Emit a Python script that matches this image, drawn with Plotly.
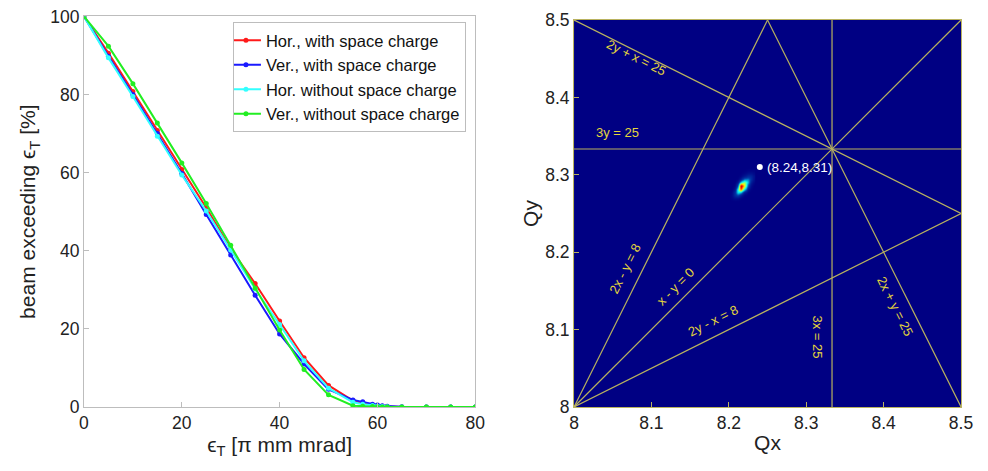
import plotly.graph_objects as go

# ---------------- Left panel data ----------------
eps_T = [0, 5, 10, 15, 20, 25, 30, 35, 40, 45, 50, 55, 57, 59, 60, 61, 62, 65, 70, 75, 80]
hor_sc = [100, 90.6, 80.8, 70.8, 60.8, 51.0, 40.5, 31.6, 22.0, 12.6, 5.5, 1.6, 1.0, 0.5, 0.3, 0.2, 0.1, 0, 0, 0, 0]
ver_sc = [100, 89.8, 80.0, 70.0, 59.8, 49.3, 38.9, 28.6, 18.7, 11.0, 4.5, 1.8, 1.3, 0.7, 0.5, 0.3, 0.2, 0.05, 0, 0, 0]
hor_nosc = [100, 89.4, 79.5, 69.3, 59.4, 50.2, 40.2, 30.2, 21.1, 11.8, 4.8, 1.2, 0.7, 0.4, 0.2, 0.1, 0.05, 0, 0, 0, 0]
ver_nosc = [100, 92.4, 82.8, 72.7, 62.5, 52.1, 41.4, 30.4, 19.7, 9.6, 3.1, 0.3, 0.15, 0.1, 0.05, 0, 0, 0, 0, 0, 0]
series_names = ["Hor., with space charge", "Ver., with space charge",
                "Hor. without space charge", "Ver., without space charge"]
series_colors = ["#ff1a1a", "#1a1aff", "#33ffff", "#22ee22"]

# ---------------- Right panel data ----------------
# resonance lines a*Qx + b*Qy = c
res_a = [1, 0, 3, 2, 2, 1, -1]
res_b = [2, 3, 0, 1, -1, -1, 2]
res_c = [25, 25, 25, 25, 8, 0, 8]
res_labels = ["2y + x = 25", "3y = 25", "3x = 25", "2x + y = 25", "2x - y = 8", "x - y = 0", "2y - x = 8"]
res_label_x = [8.080, 8.056, 8.314, 8.415, 8.066, 8.131, 8.180]
res_label_y = [8.451, 8.354, 8.091, 8.130, 8.179, 8.156, 8.112]
res_label_angle = [26.6, 0, 90, 63.4, -63.4, -45, -26.6]

working_point = (8.24, 8.31)
q_min, q_max = 8.0, 8.5

# tune density, grid origin and step
dens_x0, dens_y0, dens_d = 8.200, 8.266, 0.004
tune_density = [
    [0, 0, 0, 0, 0, 0, 0, 0, 0],
    [0, 0.02, 0.05, 0.04, 0.01, 0, 0, 0, 0],
    [0, 0.03, 0.15, 0.20, 0.09, 0.01, 0, 0, 0],
    [0, 0.02, 0.15, 0.40, 0.34, 0.09, 0.01, 0, 0],
    [0, 0, 0.07, 0.44, 0.78, 0.38, 0.07, 0.01, 0],
    [0, 0, 0.02, 0.22, 0.92, 0.60, 0.20, 0.04, 0],
    [0, 0, 0, 0.07, 0.38, 0.52, 0.34, 0.10, 0.02],
    [0, 0, 0, 0.01, 0.10, 0.26, 0.28, 0.16, 0.05],
    [0, 0, 0, 0, 0.02, 0.08, 0.14, 0.13, 0.06],
    [0, 0, 0, 0, 0, 0.02, 0.05, 0.06, 0.03],
    [0, 0, 0, 0, 0, 0, 0.01, 0.01, 0.01],
]

FONT = "Liberation Sans, Arial, Helvetica, sans-serif"
LINE_COL = "rgb(185,178,95)"
LABEL_COL = "rgb(228,214,60)"
BG_COL = "rgb(0,0,131)"

fig = go.Figure()

for ys, name, col in zip([hor_sc, ver_sc, hor_nosc, ver_nosc], series_names, series_colors):
    fig.add_trace(go.Scatter(x=eps_T, y=ys, name=name, mode="lines+markers",
                             line=dict(color=col, width=2),
                             marker=dict(color=col, size=5),
                             xaxis="x", yaxis="y"))

# density heatmap
fig.add_trace(go.Heatmap(z=tune_density, x0=dens_x0, dx=dens_d, y0=dens_y0, dy=dens_d,
                         colorscale="Jet", zmin=0, zmax=1, zsmooth="best",
                         showscale=False, hoverinfo="skip", xaxis="x2", yaxis="y2",
                         showlegend=False))


def clip_line(a, b, c):
    pts = []
    if b != 0:
        for xv in (q_min, q_max):
            yv = (c - a * xv) / b
            if q_min - 1e-9 <= yv <= q_max + 1e-9:
                pts.append((xv, yv))
    if a != 0:
        for yv in (q_min, q_max):
            xv = (c - b * yv) / a
            if q_min - 1e-9 <= xv <= q_max + 1e-9:
                pts.append((xv, yv))
    uniq = []
    for p in pts:
        if all(abs(p[0] - u[0]) > 1e-9 or abs(p[1] - u[1]) > 1e-9 for u in uniq):
            uniq.append(p)
    return uniq[:2]


for a, b, c in zip(res_a, res_b, res_c):
    seg = clip_line(a, b, c)
    fig.add_trace(go.Scatter(x=[p[0] for p in seg], y=[p[1] for p in seg], mode="lines",
                             line=dict(color=LINE_COL, width=1.2), showlegend=False,
                             hoverinfo="skip", xaxis="x2", yaxis="y2"))

fig.add_trace(go.Scatter(x=[working_point[0]], y=[working_point[1]], mode="markers",
                         marker=dict(color="white", size=6), showlegend=False,
                         xaxis="x2", yaxis="y2"))

annotations = []
for txt, lx, ly, ang in zip(res_labels, res_label_x, res_label_y, res_label_angle):
    annotations.append(dict(x=lx, y=ly, xref="x2", yref="y2", text=txt, showarrow=False,
                            textangle=ang, font=dict(family=FONT, size=13, color=LABEL_COL)))
annotations.append(dict(x=working_point[0] + 0.007, y=working_point[1], xref="x2", yref="y2",
                        text="(%.2f,%.2f)" % working_point, showarrow=False, xanchor="left",
                        font=dict(family=FONT, size=13.5, color="white")))

axis_common = dict(showgrid=False, zeroline=False, ticks="inside", ticklen=5, automargin=False,
                   ticklabeloverflow="allow",
                   tickfont=dict(family=FONT, size=17.5, color="#222"), mirror=True, showline=True)

fig.update_layout(
    width=988, height=471,
    margin=dict(l=0, r=0, t=0, b=0, autoexpand=False),
    paper_bgcolor="white",
    plot_bgcolor="white",
    font=dict(family=FONT, color="#222"),
    xaxis=dict(domain=[0.0769, 0.4729], range=[0, 80], tickvals=[0, 20, 40, 60, 80],
               linecolor="#bdbdbd", tickcolor="#bdbdbd", anchor="y",
               title=dict(text="ϵ<sub>T</sub> [π mm mrad]", font=dict(family=FONT, size=21), standoff=3),
               **axis_common),
    yaxis=dict(domain=[0.153, 0.982], range=[0, 100], tickvals=[0, 20, 40, 60, 80, 100],
               linecolor="#bdbdbd", tickcolor="#bdbdbd", anchor="x",
               title=dict(text="beam exceeding ϵ<sub>T</sub> [%]", font=dict(family=FONT, size=21), standoff=8),
               **axis_common),
    xaxis2=dict(domain=[0.5729, 0.9646], range=[q_min, q_max],
                tickvals=[8, 8.1, 8.2, 8.3, 8.4, 8.5], ticktext=["8", "8.1", "8.2", "8.3", "8.4", "8.5"],
                linecolor=LINE_COL, tickcolor=LINE_COL, anchor="y2",
                title=dict(text="Qx", font=dict(family=FONT, size=21), standoff=3),
                **axis_common),
    yaxis2=dict(domain=[0.153, 0.9745], range=[q_min, q_max],
                tickvals=[8, 8.1, 8.2, 8.3, 8.4, 8.5], ticktext=["8", "8.1", "8.2", "8.3", "8.4", "8.5"],
                linecolor=LINE_COL, tickcolor=LINE_COL, anchor="x2",
                title=dict(text="Qy", font=dict(family=FONT, size=21), standoff=0),
                **axis_common),
    legend=dict(x=0.4635, xanchor="right", y=0.970, yanchor="top",
                bgcolor="white", bordercolor="#bdbdbd", borderwidth=1,
                font=dict(family=FONT, size=16.5, color="#111"),
                tracegroupgap=0, itemwidth=30, indentation=-8),
    annotations=annotations,
    showlegend=True,
)

# dark plot area for the tune diagram
fig.add_shape(type="rect", xref="x2 domain", yref="y2 domain", x0=0, y0=0, x1=1, y1=1,
              fillcolor=BG_COL, line=dict(width=0), layer="below")

fig.write_html("out.html")
